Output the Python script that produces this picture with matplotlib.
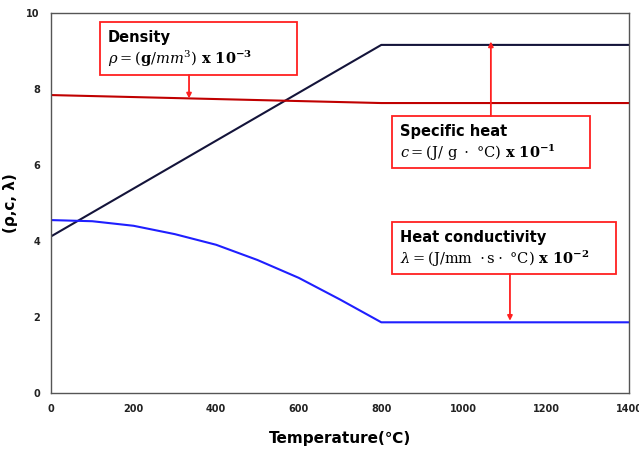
import matplotlib
matplotlib.use("Agg")
import matplotlib.pyplot as plt
from matplotlib.patches import Rectangle

plt.rcParams['font.family'] = ['DejaVu Sans']
plt.rcParams['mathtext.fontset'] = 'dejavuserif'

# Data
temp_c = [0, 800, 1400]
specific_heat = [4.12, 9.16, 9.16]
temp_rho = [0, 800, 1400]
density = [7.84, 7.63, 7.63]
temp_k = [0, 100, 200, 300, 400, 500, 600, 700, 800, 1400]
conductivity = [4.55, 4.52, 4.40, 4.18, 3.90, 3.50, 3.03, 2.46, 1.86, 1.86]

x_ticks = [0, 200, 400, 600, 800, 1000, 1200, 1400]
y_ticks = [0, 2, 4, 6, 8, 10]

fig = plt.figure(figsize=(6.39, 4.54), dpi=100)
ax = fig.add_axes([0.0798, 0.1344, 0.9046, 0.837])

ax.plot(temp_c, specific_heat, color='#14143a', lw=1.5)
ax.plot(temp_rho, density, color='#c00000', lw=1.5)
ax.plot(temp_k, conductivity, color='#1f1fff', lw=1.5)

ax.set_xlim(0, 1400)
ax.set_ylim(0, 10)
ax.set_xticks(x_ticks)
ax.set_yticks(y_ticks)
ax.tick_params(length=0, labelsize=7, pad=8, colors='#222222')
for lab in ax.get_xticklabels() + ax.get_yticklabels():
    lab.set_fontweight('bold')
for s in ax.spines.values():
    s.set_color('#555555')
    s.set_linewidth(1.0)

ax.set_xlabel('Temperature(℃)', fontsize=11, fontweight='bold', labelpad=12)
ax.set_ylabel('(ρ,c, λ)', fontsize=11, fontweight='bold', labelpad=6)

red = '#ff2020'
boxes = [
    (0.0848, 0.8368, 0.3408, 0.1392, 'Density',
     r'$\rho = (\mathbf{g}/mm^3)$ $\mathbf{x\ 10^{-3}}$'),
    (0.590, 0.592, 0.3425, 0.137, 'Specific heat',
     r'$\mathit{c}$$= (\mathrm{J/\ g\ \cdot\ °C})$ $\mathbf{x\ 10^{-1}}$'),
    (0.590, 0.313, 0.3875, 0.137, 'Heat conductivity',
     r'$\lambda = (\mathrm{J/mm\ \cdot s\cdot\ °C})$ $\mathbf{x\ 10^{-2}}$'),
]
for (x0, y0, w, h, t1, t2) in boxes:
    ax.add_patch(Rectangle((x0, y0), w, h, transform=ax.transAxes,
                           fill=True, facecolor='white', edgecolor=red, lw=1.3, zorder=5))
    ax.text(x0 + 0.013, y0 + h * 0.70, t1, transform=ax.transAxes, fontsize=10.5,
            fontweight='bold', va='center', ha='left', zorder=6)
    ax.text(x0 + 0.013, y0 + h * 0.30, t2, transform=ax.transAxes, fontsize=10.5,
            fontweight='bold', va='center', ha='left', zorder=6)

arrows = [
    (0.2388, 0.8368, 0.2388, 0.775),
    (0.761, 0.729, 0.761, 0.925),
    (0.794, 0.313, 0.794, 0.190),
]
for (x1, y1, x2, y2) in arrows:
    ax.annotate('', xy=(x2, y2), xytext=(x1, y1), xycoords='axes fraction',
                textcoords='axes fraction',
                arrowprops=dict(arrowstyle='-|>', color=red, lw=1.3,
                                mutation_scale=7, shrinkA=0, shrinkB=0), zorder=6)

fig.savefig('out.png', dpi=100)
